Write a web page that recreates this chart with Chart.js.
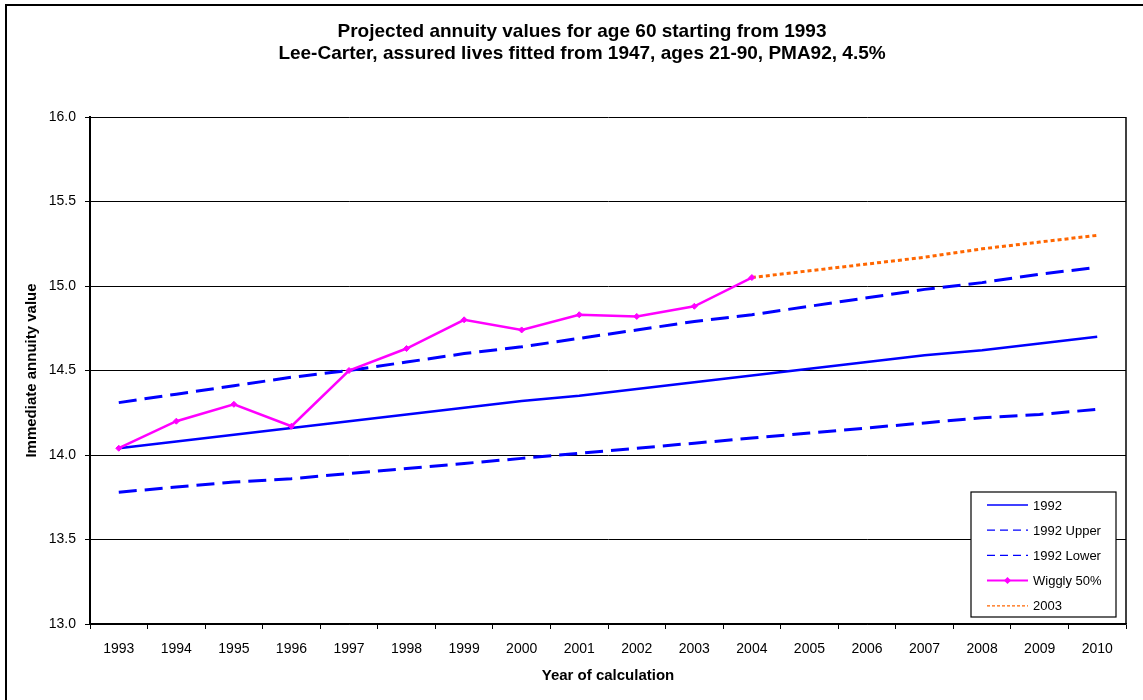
<!DOCTYPE html>
<html>
<head>
<meta charset="utf-8">
<script src="https://cdn.jsdelivr.net/npm/chart.js@4/dist/chart.umd.min.js"></script>
<style>
  html, body { margin: 0; padding: 0; background: #ffffff; }
  #wrap { width: 1143px; height: 700px; }
</style>
</head>
<body>
<div id="wrap"><canvas id="c" width="1143" height="700"></canvas></div>
<script>
// Years of calculation
const years = ['1993', '1994', '1995', '1996', '1997', '1998', '1999', '2000', '2001',
               '2002', '2003', '2004', '2005', '2006', '2007', '2008', '2009', '2010'];

// 1992 projection: central estimate with upper and lower bounds
const central1992 = [14.04, 14.08, 14.12, 14.16, 14.20, 14.24, 14.28, 14.32, 14.35,
                     14.39, 14.43, 14.47, 14.51, 14.55, 14.59, 14.62, 14.66, 14.70];
const upper1992 = [14.31, 14.36, 14.41, 14.46, 14.50, 14.55, 14.60, 14.64, 14.69,
                   14.74, 14.79, 14.83, 14.88, 14.93, 14.98, 15.02, 15.07, 15.11];
const lower1992 = [13.78, 13.81, 13.84, 13.86, 13.89, 13.92, 13.95, 13.98, 14.01,
                   14.04, 14.07, 14.10, 14.13, 14.16, 14.19, 14.22, 14.24, 14.27];

// Year-by-year recalculated values (median)
const wiggly50 = [14.04, 14.20, 14.30, 14.17, 14.50, 14.63, 14.80, 14.74, 14.83,
                  14.82, 14.88, 15.05, null, null, null, null, null, null];

// 2003 projection onwards
const proj2003 = [null, null, null, null, null, null, null, null, null,
                  null, null, 15.05, 15.09, 15.13, 15.17, 15.22, 15.26, 15.30];

// Value axis ticks
const yMin = 13.0, yMax = 16.0, yStep = 0.5;

const titleLines = ['Projected annuity values for age 60 starting from 1993',
                    'Lee-Carter, assured lives fitted from 1947, ages 21-90, PMA92, 4.5%'];

const FONT = "'Liberation Sans', Arial, sans-serif";

// Chart frame, plot border, heading and boxed legend
const decorations = {
  id: 'decorations',
  beforeDraw(chart) {
    const ctx = chart.ctx;
    ctx.save();
    ctx.fillStyle = '#ffffff';
    ctx.fillRect(0, 0, chart.width, chart.height);
    ctx.strokeStyle = '#000000';
    ctx.lineWidth = 2;
    ctx.strokeRect(6, 5, chart.width + 10, chart.height + 10);
    ctx.restore();
  },
  afterDraw(chart) {
    const ctx = chart.ctx;
    const a = chart.chartArea;
    ctx.save();
    // right edge of plot area
    ctx.strokeStyle = '#000000';
    ctx.lineWidth = 1.5;
    ctx.beginPath();
    ctx.moveTo(a.right, a.top);
    ctx.lineTo(a.right, a.bottom);
    ctx.stroke();

    // heading
    ctx.fillStyle = '#000000';
    ctx.font = 'bold 19px ' + FONT;
    ctx.textAlign = 'center';
    ctx.textBaseline = 'middle';
    ctx.fillText(titleLines[0], 582, 31.5);
    ctx.fillText(titleLines[1], 582, 53.5);

    // legend box
    const bw = 145, bh = 125;
    const bx = a.right - 10 - bw, by = a.bottom - 7 - bh;
    ctx.fillStyle = '#ffffff';
    ctx.fillRect(bx, by, bw, bh);
    ctx.strokeStyle = '#000000';
    ctx.lineWidth = 1.2;
    ctx.strokeRect(bx, by, bw, bh);

    const sampleDash = [[], [8, 5], [8, 5], [], [3, 2]];
    ctx.font = '13px ' + FONT;
    ctx.textAlign = 'left';
    chart.data.datasets.forEach((ds, i) => {
      const y = by + 13 + i * 25.2;
      const x0 = bx + 16, x1 = bx + 57;
      ctx.strokeStyle = ds.borderColor;
      ctx.lineWidth = i === 3 ? 2 : 1.3;
      ctx.setLineDash(sampleDash[i]);
      ctx.beginPath();
      ctx.moveTo(x0, y);
      ctx.lineTo(x1, y);
      ctx.stroke();
      ctx.setLineDash([]);
      if (i === 3) {
        const cx = (x0 + x1) / 2;
        ctx.fillStyle = ds.borderColor;
        ctx.beginPath();
        ctx.moveTo(cx, y - 3.5);
        ctx.lineTo(cx + 3.5, y);
        ctx.lineTo(cx, y + 3.5);
        ctx.lineTo(cx - 3.5, y);
        ctx.closePath();
        ctx.fill();
      }
      ctx.fillStyle = '#000000';
      ctx.fillText(ds.label, bx + 62, y + 1);
    });
    ctx.restore();
  }
};

new Chart(document.getElementById('c'), {
  type: 'line',
  data: {
    labels: years,
    datasets: [
      { label: '1992', data: central1992, borderColor: '#0000ff', borderWidth: 2.5,
        pointRadius: 0, tension: 0, order: 4 },
      { label: '1992 Upper', data: upper1992, borderColor: '#0000ff', borderWidth: 3,
        borderDash: [18, 8], pointRadius: 0, tension: 0, order: 3 },
      { label: '1992 Lower', data: lower1992, borderColor: '#0000ff', borderWidth: 3,
        borderDash: [18, 8], pointRadius: 0, tension: 0, order: 2 },
      { label: 'Wiggly 50%', data: wiggly50, borderColor: '#ff00ff', backgroundColor: '#ff00ff',
        borderWidth: 2.5, pointStyle: 'rectRot', pointRadius: 3, pointBorderWidth: 1,
        tension: 0, spanGaps: false, order: 0 },
      { label: '2003', data: proj2003, borderColor: '#ff6600', borderWidth: 3,
        borderDash: [4, 3], pointRadius: 0, tension: 0, order: 1 }
    ]
  },
  options: {
    responsive: false,
    animation: false,
    devicePixelRatio: 1,
    layout: { padding: { top: 117, left: 0, right: 17, bottom: 0 } },
    plugins: {
      legend: { display: false },
      title: { display: false },
      tooltip: { enabled: false }
    },
    scales: {
      x: {
        type: 'category',
        offset: true,
        grid: { offset: true, drawOnChartArea: false, drawTicks: true, tickLength: 5,
                color: '#000000', tickColor: '#000000', lineWidth: 1 },
        border: { color: '#000000', width: 1.5 },
        ticks: { color: '#000000', font: { family: FONT, size: 14 }, padding: 12,
                 maxRotation: 0, autoSkip: false },
        title: { display: true, text: 'Year of calculation', color: '#000000',
                 font: { family: FONT, size: 15, weight: 'bold' },
                 padding: { top: 0, bottom: 15 } },
        afterFit(scale) { scale.height = 76; }
      },
      y: {
        min: yMin,
        max: yMax,
        grid: { color: '#000000', tickColor: '#000000', lineWidth: 1, tickLength: 5 },
        border: { color: '#000000', width: 2 },
        ticks: { stepSize: yStep, color: '#000000', font: { family: FONT, size: 14 },
                 padding: 9, callback: v => Number(v).toFixed(1) },
        title: { display: true, text: 'Immediate annuity value', color: '#000000',
                 font: { family: FONT, size: 15, weight: 'bold' },
                 padding: { top: 23, bottom: 0 } },
        afterFit(scale) { scale.width = 90; }
      }
    }
  },
  plugins: [decorations]
});
</script>
</body>
</html>
